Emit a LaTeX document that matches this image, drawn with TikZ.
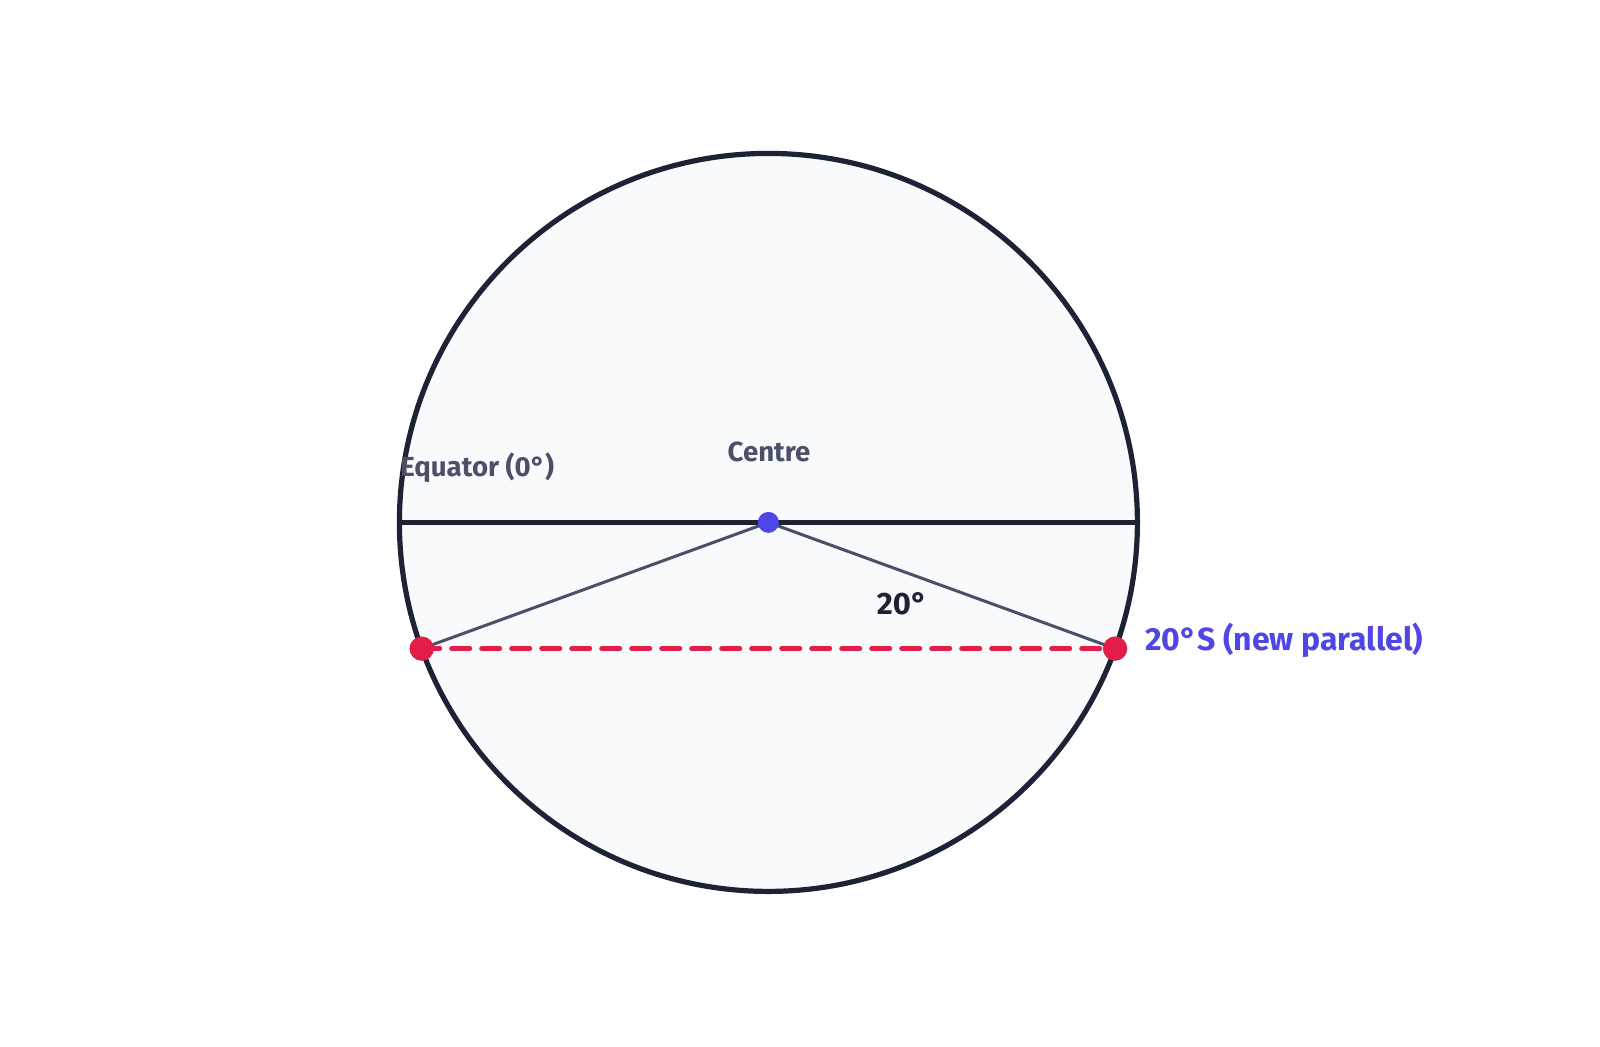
\documentclass[tikz,border=0pt]{standalone}
\usepackage{fontspec}
\setmainfont{Fira Sans}
\definecolor{ink}{HTML}{1E2235}
\definecolor{paper}{HTML}{F8FAFC}
\definecolor{slate}{HTML}{4A5068}
\definecolor{rose}{HTML}{E11D48}
\definecolor{indigo}{HTML}{4F46E5}
\tikzset{
  globe/.style={draw=ink,line width=2.6pt,fill=paper},
  radius line/.style={draw=slate,line width=1.5pt},
  paraline/.style={draw=rose,line width=2.5pt,line cap=round,dash pattern=on 9pt off 6pt},
  reddot/.style={circle,fill=rose,inner sep=0pt,minimum size=12pt},
  bluedot/.style={circle,fill=indigo,inner sep=0pt,minimum size=10.5pt},
  lab/.style={text=slate,font=\fontsize{13.8}{16}\selectfont\bfseries},
}
\begin{document}
\begin{tikzpicture}[x=0.5pt,y=-0.5pt]
\useasboundingbox (0,0) rectangle (1600,1046);
\fill[white] (0,0) rectangle (1600,1046);
\coordinate (C) at (768.4,522.4);
\draw[globe] (C) circle[radius=369];
\coordinate (EL) at (400,522.4);
\coordinate (ER) at (1137,522.4);
\draw[draw=ink,line width=2.2pt] (EL) -- (ER);
\node[reddot] (L) at (421.7,648.6) {};
\node[reddot] (R) at (1115.1,648.6) {};
\draw[radius line] (C) -- (L.center);
\draw[radius line] (C) -- (R.center);
\draw[paraline] (L.center) -- (R.center);
\node[reddot] at (L.center) {};
\node[reddot] at (R.center) {};
\node[bluedot] (O) at (C) {};
\node[lab,anchor=west,inner sep=0pt] (eq) at (400,468) {Equator (0°)};
\node[lab] (ce) at (769,452) {Centre};
\node[text=ink,font=\fontsize{15.5}{18}\selectfont\bfseries] (ang) at (902,604) {20°};
\node[text=indigo,font=\fontsize{16}{18}\selectfont\bfseries,anchor=west,inner sep=0pt] (np) at (1145,640) {20°S (new parallel)};
\end{tikzpicture}
\end{document}
